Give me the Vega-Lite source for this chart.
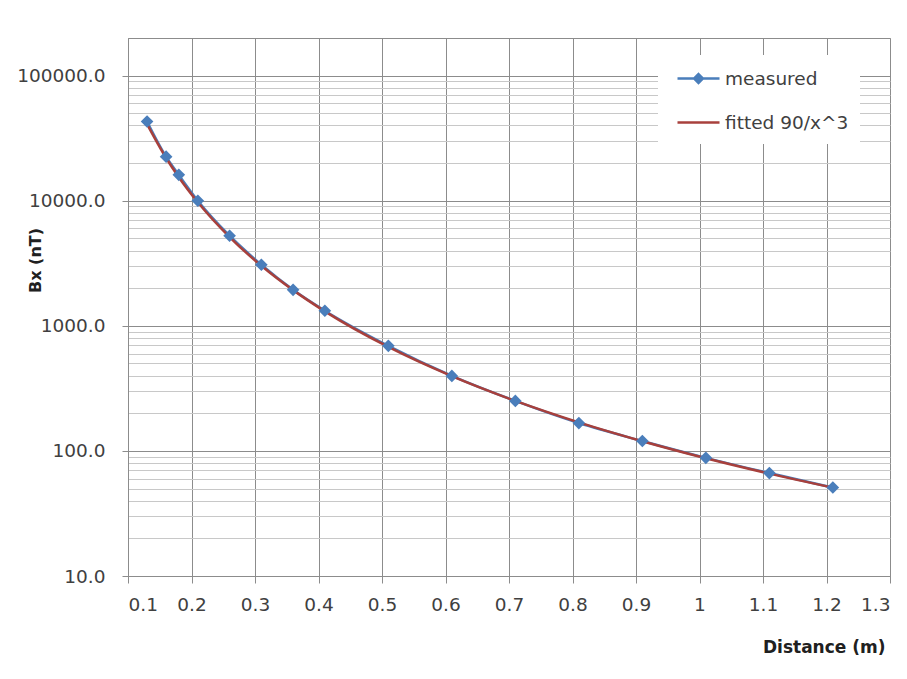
{
  "$schema": "https://vega.github.io/schema/vega-lite/v6.json",
  "width": 762,
  "height": 538,
  "autosize": "none",
  "padding": {"left": 128, "top": 38, "right": 17, "bottom": 103},
  "background": "white",
  "config": {
    "view": {"stroke": "#8c8c8c", "strokeWidth": 1},
    "font": "DejaVu Sans"
  },
  "data": {
    "values": [
      {"x": 0.13, "y": 43000, "series": "measured"},
      {"x": 0.16, "y": 22500, "series": "measured"},
      {"x": 0.18, "y": 16100, "series": "measured"},
      {"x": 0.21, "y": 10000, "series": "measured"},
      {"x": 0.26, "y": 5250, "series": "measured"},
      {"x": 0.31, "y": 3080, "series": "measured"},
      {"x": 0.36, "y": 1940, "series": "measured"},
      {"x": 0.41, "y": 1320, "series": "measured"},
      {"x": 0.51, "y": 692, "series": "measured"},
      {"x": 0.61, "y": 398, "series": "measured"},
      {"x": 0.71, "y": 251, "series": "measured"},
      {"x": 0.81, "y": 167, "series": "measured"},
      {"x": 0.91, "y": 120, "series": "measured"},
      {"x": 1.01, "y": 88, "series": "measured"},
      {"x": 1.11, "y": 66.5, "series": "measured"},
      {"x": 1.21, "y": 51, "series": "measured"},
      {"x": 0.13, "y": 40965, "series": "fitted 90/x^3"},
      {"x": 0.16, "y": 21973, "series": "fitted 90/x^3"},
      {"x": 0.18, "y": 15432, "series": "fitted 90/x^3"},
      {"x": 0.21, "y": 9718, "series": "fitted 90/x^3"},
      {"x": 0.26, "y": 5120, "series": "fitted 90/x^3"},
      {"x": 0.31, "y": 3021, "series": "fitted 90/x^3"},
      {"x": 0.36, "y": 1929, "series": "fitted 90/x^3"},
      {"x": 0.41, "y": 1306, "series": "fitted 90/x^3"},
      {"x": 0.51, "y": 678, "series": "fitted 90/x^3"},
      {"x": 0.61, "y": 396, "series": "fitted 90/x^3"},
      {"x": 0.71, "y": 251, "series": "fitted 90/x^3"},
      {"x": 0.81, "y": 169, "series": "fitted 90/x^3"},
      {"x": 0.91, "y": 119.4, "series": "fitted 90/x^3"},
      {"x": 1.01, "y": 87.3, "series": "fitted 90/x^3"},
      {"x": 1.11, "y": 65.8, "series": "fitted 90/x^3"},
      {"x": 1.21, "y": 50.8, "series": "fitted 90/x^3"}
    ]
  },
  "encoding": {
    "x": {
      "field": "x",
      "type": "quantitative",
      "scale": {"domain": [0.1, 1.3], "nice": false, "zero": false},
      "axis": {
        "title": "Distance (m)",
        "values": [0.1, 0.2, 0.3, 0.4, 0.5, 0.6, 0.7, 0.8, 0.9, 1, 1.1, 1.2, 1.3],
        "format": "~g",
        "grid": true,
        "gridColor": "#8c8c8c",
        "gridWidth": 1,
        "domainColor": "#8c8c8c",
        "tickColor": "#8c8c8c",
        "tickSize": 7,
        "labelPadding": 12,
        "labelFont": "DejaVu Sans",
        "labelFontSize": 18.5,
        "labelColor": "#404040",
        "titleFont": "DejaVu Sans",
        "titleFontSize": 17,
        "titleFontWeight": "bold",
        "titleColor": "#202020",
        "titleAnchor": "end",
        "titleAlign": "right",
        "titleBaseline": "middle",
        "titleX": 757,
        "titleY": 71
      }
    },
    "y": {
      "field": "y",
      "type": "quantitative",
      "scale": {"type": "log", "domain": [10, 200000], "nice": false},
      "axis": {
        "title": "Bx (nT)",
        "values": [10, 20, 30, 40, 50, 60, 70, 80, 90, 100, 200, 300, 400, 500, 600, 700, 800, 900, 1000, 2000, 3000, 4000, 5000, 6000, 7000, 8000, 9000, 10000, 20000, 30000, 40000, 50000, 60000, 70000, 80000, 90000, 100000],
        "labelExpr": "indexof([10,100,1000,10000,100000], datum.value) >= 0 ? format(datum.value, '.1f') : ''",
        "grid": true,
        "gridColor": {"condition": {"test": "indexof([10,100,1000,10000,100000], datum.value) >= 0", "value": "#8c8c8c"}, "value": "#c8c8c8"},
        "gridWidth": 1,
        "tickOpacity": {"condition": {"test": "indexof([10,100,1000,10000,100000], datum.value) >= 0", "value": 1}, "value": 0},
        "domainColor": "#8c8c8c",
        "tickColor": "#8c8c8c",
        "tickSize": 6,
        "labelPadding": 17,
        "labelFont": "DejaVu Sans",
        "labelFontSize": 18.5,
        "labelColor": "#404040",
        "labelOverlap": false,
        "titleFont": "DejaVu Sans",
        "titleFontSize": 16,
        "titleFontWeight": "bold",
        "titleColor": "#202020",
        "titleX": -93,
        "titleY": 222,
        "titleAlign": "center",
        "titleBaseline": "middle",
        "titleAngle": -90
      }
    },
    "color": {
      "field": "series",
      "type": "nominal",
      "scale": {"domain": ["measured", "fitted 90/x^3"], "range": ["#4a7ebb", "#a8403c"]},
      "legend": {
        "title": null,
        "orient": "none",
        "legendX": 530,
        "legendY": 17,
        "fillColor": "white",
        "padding": 11.5,
        "rowPadding": 22,
        "labelFont": "DejaVu Sans",
        "labelFontSize": 18.5,
        "labelColor": "#404040",
        "labelOffset": 14.5,
        "symbolOffset": 17,
        "symbolSize": 441,
        "symbolStrokeWidth": 2.5,
        "encode": {
          "symbols": {
            "update": {
              "shape": {"signal": "datum.value == 'measured' ? 'M-2,0H2M0,-0.42L0.42,0L0,0.42L-0.42,0Z' : 'M-2,0H2'"},
              "fill": {"signal": "datum.value == 'measured' ? '#4a7ebb' : 'transparent'"},
              "stroke": {"signal": "datum.value == 'measured' ? '#4a7ebb' : '#a8403c'"},
              "strokeWidth": {"value": 2.5},
              "opacity": {"value": 1}
            }
          }
        }
      }
    }
  },
  "layer": [
    {
      "transform": [{"filter": "datum.series == 'measured'"}],
      "mark": {"type": "line", "strokeWidth": 2.5, "interpolate": "monotone"}
    },
    {
      "transform": [{"filter": "datum.series == 'fitted 90/x^3'"}],
      "mark": {"type": "line", "strokeWidth": 2.5, "interpolate": "monotone"}
    },
    {
      "transform": [{"filter": "datum.series == 'measured'"}],
      "mark": {"type": "point", "shape": "diamond", "filled": true, "size": 160, "opacity": 1}
    }
  ]
}
